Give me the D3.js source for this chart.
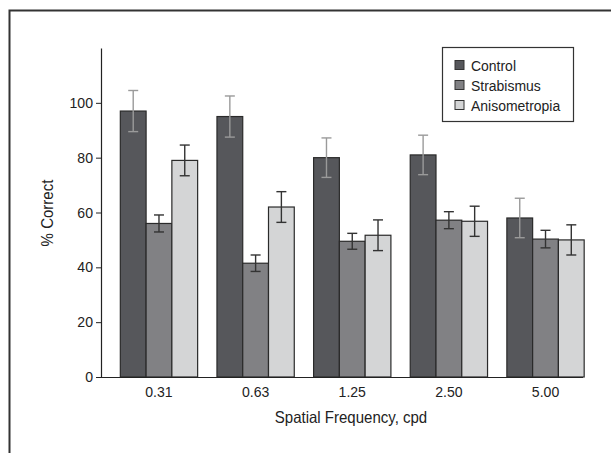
<!DOCTYPE html>
<html>
<head>
<meta charset="utf-8">
<script src="https://cdn.jsdelivr.net/npm/d3@7"></script>
<style>
  body { margin: 0; background: #fff; }
  text { font-family: "Liberation Sans Narrow", "Liberation Sans", Arial, sans-serif; fill: #222; }
</style>
</head>
<body>
<div id="chart"></div>
<script>
// Data
const frequencies = ["0.31", "0.63", "1.25", "2.50", "5.00"];
const groups = ["Control", "Strabismus", "Anisometropia"];
const control = [97, 95, 80, 81, 58];
const strabismus = [56, 41.5, 49.5, 57.2, 50.3];
const anisometropia = [79, 62, 51.7, 56.8, 50];
const controlErr = [7.5, 7.5, 7.2, 7.2, 7.2];
const strabismusErr = [3.1, 3, 2.9, 3.1, 3.2];
const anisometropiaErr = [5.6, 5.6, 5.6, 5.5, 5.5];
const yTicks = [0, 20, 40, 60, 80, 100];

const colors = { Control: "#56575b", Strabismus: "#818184", Anisometropia: "#d4d5d6" };
const errColors = { Control: "#9a9a9a", Strabismus: "#333", Anisometropia: "#333" };

const series = [control, strabismus, anisometropia];
const errors = [controlErr, strabismusErr, anisometropiaErr];

const width = 611, height = 453;

const svg = d3.select("#chart").append("svg")
    .attr("width", width)
    .attr("height", height);

// squeeze text a little, the original uses a condensed face
function squeeze(sel, k) {
    sel.each(function() {
        const len = this.getComputedTextLength();
        d3.select(this)
            .attr("textLength", len * k)
            .attr("lengthAdjust", "spacingAndGlyphs");
    });
}

// outer frame (left and top edges only visible)
svg.append("path")
    .attr("d", `M9.5,${height} V10.5 H${width}`)
    .attr("fill", "none")
    .attr("stroke", "#333")
    .attr("stroke-width", 2);

const x0 = d3.scaleBand()
    .domain(frequencies)
    .range([101, 603.5])
    .paddingInner(0.2)
    .paddingOuter(0.2);

const x1 = d3.scaleBand()
    .domain(groups)
    .range([0, x0.bandwidth()]);

const y = d3.scaleLinear()
    .domain([0, 120])
    .range([377, 48]);

// bars
const rows = frequencies.map((f, i) => groups.map((g, j) => ({
    freq: f, group: g, value: series[j][i], err: errors[j][i]
})));

const grp = svg.append("g")
    .selectAll("g")
    .data(rows)
    .enter().append("g")
    .attr("transform", (d, i) => `translate(${x0(frequencies[i])},0)`);

grp.selectAll("rect")
    .data(d => d)
    .enter().append("rect")
    .attr("x", d => x1(d.group))
    .attr("y", d => y(d.value))
    .attr("width", x1.bandwidth())
    .attr("height", d => y(0) - y(d.value))
    .attr("fill", d => colors[d.group])
    .attr("stroke", "#2a2a2a")
    .attr("stroke-width", 1.2);

// error bars
const eb = grp.selectAll("g.err")
    .data(d => d)
    .enter().append("g")
    .attr("class", "err")
    .attr("stroke", d => errColors[d.group])
    .attr("stroke-width", 1.4);

const cx = d => x1(d.group) + x1.bandwidth() / 2;

eb.append("line")
    .attr("x1", cx).attr("x2", cx)
    .attr("y1", d => y(d.value + d.err))
    .attr("y2", d => y(d.value - d.err));
eb.append("line")
    .attr("x1", d => cx(d) - 5).attr("x2", d => cx(d) + 5)
    .attr("y1", d => y(d.value + d.err))
    .attr("y2", d => y(d.value + d.err));
eb.append("line")
    .attr("x1", d => cx(d) - 5).attr("x2", d => cx(d) + 5)
    .attr("y1", d => y(d.value - d.err))
    .attr("y2", d => y(d.value - d.err));

// axes
const yAxis = svg.append("g")
    .attr("transform", "translate(101,0)")
    .call(d3.axisLeft(y).tickValues(yTicks).tickSize(5).tickPadding(3).tickSizeOuter(0));
yAxis.select(".domain").attr("stroke", "#222").attr("stroke-width", 1.2);
yAxis.selectAll(".tick line").attr("stroke", "#222");
yAxis.selectAll("text").style("font-size", "14.5px").attr("fill", "#222");
squeeze(yAxis.selectAll("text"), 0.97);

const xAxis = svg.append("g")
    .attr("transform", `translate(0,${y(0)})`)
    .call(d3.axisBottom(x0).tickSize(0).tickPadding(10));
xAxis.select(".domain").attr("d", `M101,0.5H583`).attr("stroke", "#222").attr("stroke-width", 1.2);
xAxis.selectAll("text").style("font-size", "14.5px").attr("fill", "#222");
squeeze(xAxis.selectAll("text"), 0.97);

// axis titles
const xTitle = svg.append("text")
    .attr("x", 351)
    .attr("y", 423)
    .attr("text-anchor", "middle")
    .style("font-size", "16.5px")
    .text("Spatial Frequency, cpd");
squeeze(xTitle, 0.91);

const yTitle = svg.append("text")
    .attr("transform", "translate(53,213) rotate(-90)")
    .attr("text-anchor", "middle")
    .style("font-size", "16.5px")
    .text("% Correct");
squeeze(yTitle, 0.91);

// legend
const legend = svg.append("g");
legend.append("rect")
    .attr("x", 442.5).attr("y", 47.5)
    .attr("width", 131).attr("height", 74)
    .attr("fill", "#fff")
    .attr("stroke", "#333")
    .attr("stroke-width", 1.2);

const item = legend.selectAll("g.item")
    .data(groups)
    .enter().append("g")
    .attr("class", "item")
    .attr("transform", (d, i) => `translate(455,${65 + i * 20})`);

item.append("rect")
    .attr("x", 0).attr("y", -4.5)
    .attr("width", 9).attr("height", 9)
    .attr("fill", d => colors[d])
    .attr("stroke", "#333")
    .attr("stroke-width", 1);

item.append("text")
    .attr("x", 16)
    .attr("y", 5.5)
    .style("font-size", "14.7px")
    .text(d => d);
squeeze(item.selectAll("text"), 0.95);
</script>
</body>
</html>
